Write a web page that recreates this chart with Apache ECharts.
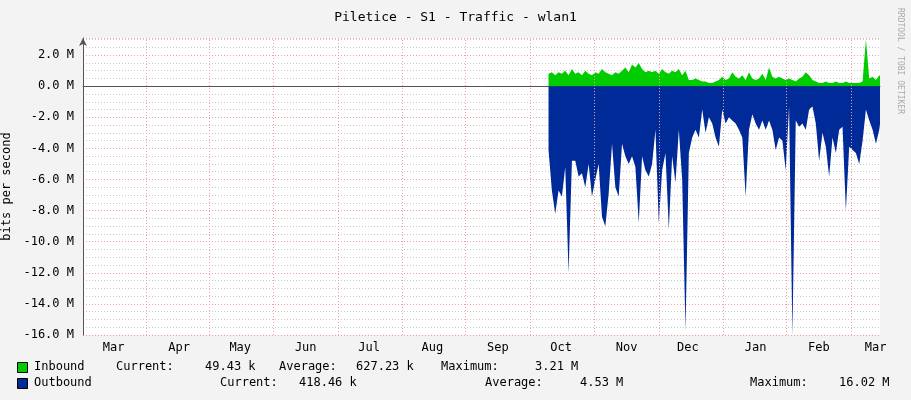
<!DOCTYPE html>
<html><head><meta charset="utf-8">
<script src="https://cdn.jsdelivr.net/npm/echarts@6/dist/echarts.min.js"></script>
<style>html,body{margin:0;padding:0;background:#f3f3f3}#c{width:911px;height:400px}</style>
</head><body><div id="c"></div>
<script>
// x axis in days since Mar 1 (one year shown)
const startDay = 213.2;   // first sample (early Oct)
const stepDays = 1.53;
const monthStarts = [29, 58, 87, 117, 146, 175, 205, 234, 264, 293, 322, 352];
const monthLabelPos = [14, 44, 72, 102, 131, 160, 190, 219, 249, 277, 308, 337, 363];
const monthLabels = ['Mar','Apr','May','Jun','Jul','Aug','Sep','Oct','Nov','Dec','Jan','Feb','Mar'];
const outboundM = [4.1,6.7,8.2,6.7,7.1,5.2,12.0,4.8,4.8,5.8,5.6,6.5,5.0,7.1,6.0,5.0,8.4,9.0,6.9,3.7,
6.5,7.1,3.7,4.5,5.0,4.5,5.2,8.8,4.5,5.4,5.8,5.0,2.8,8.8,5.4,4.3,9.2,4.5,6.2,2.8,
6.0,15.7,4.3,3.3,2.8,3.3,1.5,3.0,2.0,2.4,3.3,3.9,1.5,2.4,2.0,2.2,2.4,2.8,3.3,7.1,
2.8,1.8,2.4,2.8,2.2,2.8,2.2,2.8,4.1,3.3,3.5,5.4,1.3,16.0,2.2,2.6,2.4,2.8,1.5,1.3,
2.4,4.8,3.0,3.9,5.8,3.3,4.3,2.8,2.6,8.0,3.9,4.1,4.3,5.0,3.5,1.5,2.2,2.8,3.7,2.8,1.1,0.7];
const inboundM = [0.8,0.9,0.7,0.9,0.8,1.0,0.7,1.1,0.8,0.9,0.7,1.0,0.8,0.7,0.9,0.8,1.1,0.9,0.8,0.7,
0.9,0.8,1.0,1.2,0.9,1.4,1.2,1.5,1.1,0.9,1.0,0.9,1.0,0.8,1.1,0.9,0.8,1.0,0.9,1.1,
0.7,1.0,0.4,0.4,0.5,0.4,0.3,0.3,0.2,0.2,0.3,0.4,0.6,0.4,0.5,0.9,0.6,0.5,0.7,0.4,
0.9,0.5,0.4,0.5,0.8,0.4,1.2,0.6,0.5,0.6,0.5,0.4,0.5,0.4,0.3,0.5,0.6,0.9,0.7,0.4,
0.3,0.2,0.2,0.3,0.2,0.2,0.3,0.2,0.2,0.3,0.2,0.2,0.2,0.2,0.3,3.0,0.5,0.6,0.4,0.7,0.5,0.6];
const yTicks = {min:-16, max:3.1, interval:2};

const inData = inboundM.map((v,i)=>[startDay+i*stepDays, v]);
const outData = outboundM.map((v,i)=>[startDay+i*stepDays, -v]);
const mono = 'DejaVu Sans Mono';
const chart = echarts.init(document.getElementById('c'));
const t = (x,y,s,extra)=>Object.assign({type:'text',left:x,top:y,style:{text:s,font:'12px '+mono,fill:'#000'}},extra||{});
chart.setOption({
  backgroundColor:'#f3f3f3',
  animation:false,
  title:{text:'Piletice - S1 - Traffic - wlan1',left:'center',top:6,textStyle:{fontFamily:mono,fontSize:13,fontWeight:'normal',color:'#000'}},
  grid:{left:83,right:31,top:38,bottom:65,backgroundColor:'#fff',show:true,borderWidth:0,containLabel:false,outerBoundsMode:'none'},
  xAxis:{type:'value',min:0,max:365,
    axisLine:{lineStyle:{color:'#555'},symbol:['none','arrow'],symbolSize:[6,8]},
    axisTick:{show:false},splitLine:{show:false},
    axisLabel:{customValues:monthLabelPos,formatter:v=>monthLabels[monthLabelPos.indexOf(v)],fontFamily:mono,fontSize:12,color:'#000',margin:7}},
  yAxis:{type:'value',min:yTicks.min,max:yTicks.max,interval:yTicks.interval,
    name:'bits per second',nameLocation:'middle',nameGap:68,nameRotate:90,nameTextStyle:{fontFamily:mono,fontSize:12,color:'#000'},
    axisLine:{show:true,lineStyle:{color:'#555'},symbol:['none','arrow'],symbolSize:[6,8]},
    axisTick:{show:false},
    axisLabel:{formatter:v=>v.toFixed(1)+' M',fontFamily:mono,fontSize:12,color:'#000',showMaxLabel:false,margin:9},
    splitLine:{lineStyle:{color:'#f0a0a0',type:[1,2]}},
    minorTick:{show:false,splitNumber:4},
    minorSplitLine:{show:true,lineStyle:{color:'#c8c8c8',type:[1,2]}}},
  series:[
    {type:'line',data:inData,symbol:'none',lineStyle:{width:0},areaStyle:{color:'#00cc00',opacity:1},z:3},
    {type:'line',data:outData,symbol:'none',lineStyle:{width:0},areaStyle:{color:'#002a97',opacity:1},z:3},
    {type:'line',data:[],markLine:{silent:true,symbol:'none',label:{show:false},lineStyle:{color:'#f2a0a0',type:[1,2],width:1},
      data:monthStarts.map(d=>({xAxis:d}))},z:2}
  ],
  graphic:[
    {type:'text',left:896,top:8,rotation:-Math.PI/2,style:{text:'RRDTOOL / TOBI OETIKER',font:'8px '+mono,fill:'#aaa'}},
    {type:'rect',left:17,top:362,shape:{width:10,height:10},style:{fill:'#00cc00',stroke:'#000'}},
    {type:'rect',left:17,top:378,shape:{width:10,height:10},style:{fill:'#002a97',stroke:'#000'}},
    t(34,361,'Inbound'),t(116,361,'Current:'),t(205,361,'49.43 k'),t(279,361,'Average:'),t(356,361,'627.23 k'),t(441,361,'Maximum:'),t(535,361,'3.21 M'),
    t(34,377,'Outbound'),t(220,377,'Current:'),t(299,377,'418.46 k'),t(485,377,'Average:'),t(580,377,'4.53 M'),t(750,377,'Maximum:'),t(839,377,'16.02 M')
  ]
});
</script></body></html>
